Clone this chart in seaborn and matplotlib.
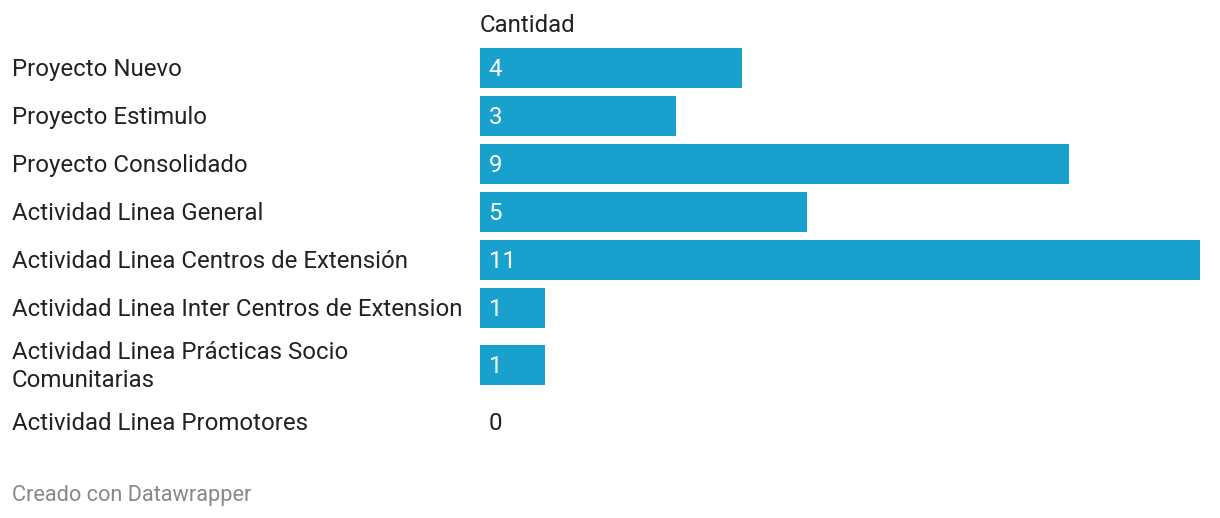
import matplotlib
matplotlib.use("Agg")
import matplotlib.pyplot as plt
import seaborn as sns
import pandas as pd

# Data
categorias = [
    "Proyecto Nuevo",
    "Proyecto Estimulo",
    "Proyecto Consolidado",
    "Actividad Linea General",
    "Actividad Linea Centros de Extensión",
    "Actividad Linea Inter Centros de Extension",
    "Actividad Linea Prácticas Socio\nComunitarias",
    "Actividad Linea Promotores",
]
cantidad = [4, 3, 9, 5, 11, 1, 1, 0]

W, H = 1220, 518
BAR_COLOR = "#18a1cd"
TEXT_COLOR = "#222222"
FS = 17.3

sns.set_theme(style="white")
plt.rcParams["font.family"] = ["Roboto", "DejaVu Sans"]

# row centres in pixels: 48 px per row, extra room for two-line labels
centros = []
top = 44
for cat in categorias:
    alto = 48 + 18 * cat.count("\n")
    centros.append(top + alto / 2)
    top += alto

df = pd.DataFrame({"categoria": categorias, "cantidad": cantidad, "pos": centros})

fig = plt.figure(figsize=(W / 100, H / 100), dpi=100)
fig.patch.set_facecolor("white")
ax = fig.add_axes([480 / W, 0, 720 / W, 1])

sns.barplot(data=df, x="cantidad", y="pos", orient="h", native_scale=True,
            width=40 / 48, color=BAR_COLOR, saturation=1, linewidth=0, ax=ax)
ax.set_xlim(0, 11)
ax.set_ylim(H, 0)
ax.set_axis_off()

# category labels and values (nudged 1.5 px down for visual centring)
for cat, val, y in zip(df["categoria"], df["cantidad"], df["pos"]):
    fig.text(12 / W, 1 - (y + 1.5) / H, cat, ha="left", va="center", fontsize=FS,
             color=TEXT_COLOR, linespacing=1.25)
    ax.text(0.13, y + 1.5, str(val), ha="left", va="center", fontsize=FS,
            color="white" if val > 0 else TEXT_COLOR)

fig.text(480 / W, 1 - 25 / H, "Cantidad", ha="left", va="center",
         fontsize=FS, color=TEXT_COLOR)
fig.text(12 / W, 1 - 495 / H, "Creado con Datawrapper", ha="left",
         va="center", fontsize=15.7, color="#888888")

fig.savefig("out.png", dpi=100, facecolor="white")
